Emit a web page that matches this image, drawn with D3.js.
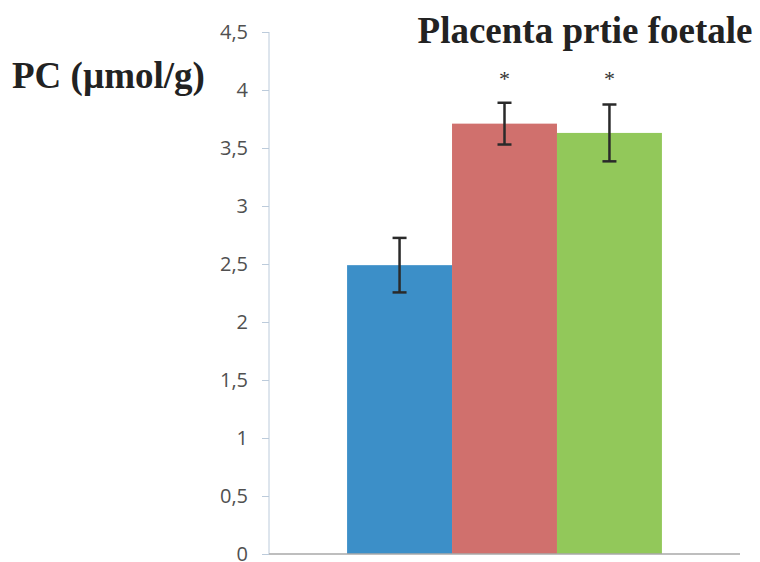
<!DOCTYPE html>
<html lang="en">
<head>
  <meta charset="UTF-8">
  <title>Placenta prtie foetale - PC</title>
  <script src="https://d3js.org/d3.v7.min.js"></script>
  <style>
    body { margin: 0; background: #fff; }
  </style>
</head>
<body>
  <div id="chart"></div>

  <script>
    // data
    const groups = ["Contrôle", "Groupe 2", "Groupe 3"];
    const means = [2.49, 3.71, 3.63];
    const errors = [0.235, 0.18, 0.245];
    const stars = ["", "*", "*"];
    const colors = ["#3c8fc8", "#d0706d", "#92c85a"];
    const yTicks = [0, 0.5, 1, 1.5, 2, 2.5, 3, 3.5, 4, 4.5];

    const W = 760, H = 562;
    const margin = { top: 32, right: 20, bottom: 8, left: 269 };
    const width = W - margin.left - margin.right;
    const height = H - margin.top - margin.bottom;

    const svg = d3.select("#chart")
      .append("svg")
      .attr("width", W)
      .attr("height", H);

    const g = svg.append("g")
      .attr("transform", "translate(" + margin.left + "," + margin.top + ")");

    const y = d3.scaleLinear()
      .domain([0, 4.5])
      .range([height, 0]);

    // one category, three bars side by side
    const x0 = d3.scaleBand()
      .domain(["PC"])
      .range([0, width])
      .paddingInner(0)
      .paddingOuter(0.248);

    const x1 = d3.scaleBand()
      .domain(groups)
      .range([x0("PC"), x0("PC") + x0.bandwidth()])
      .padding(0);

    // y axis
    const yAxis = g.append("g")
      .call(d3.axisLeft(y)
        .tickValues(yTicks)
        .tickSize(7)
        .tickPadding(14)
        .tickFormat(d => String(d).replace(".", ",")));
    yAxis.select(".domain").attr("stroke", "#bccbdb").attr("d", "M0,0V" + height);
    yAxis.selectAll(".tick line").attr("stroke", "#bccbdb");
    yAxis.selectAll(".tick text")
      .attr("fill", "#505050")
      .style("font-family", "'Open Sans', Lato, sans-serif")
      .style("font-size", "20px");

    // bars
    g.selectAll("rect.bar")
      .data(groups)
      .enter().append("rect")
        .attr("class", "bar")
        .attr("x", d => x1(d))
        .attr("y", (d, i) => y(means[i]))
        .attr("width", x1.bandwidth())
        .attr("height", (d, i) => height - y(means[i]))
        .attr("fill", (d, i) => colors[i]);

    // x baseline
    g.append("line")
      .attr("x1", 0)
      .attr("x2", width)
      .attr("y1", height)
      .attr("y2", height)
      .attr("stroke", "#a8a8a8")
      .attr("stroke-width", 1.5);

    // error bars
    const eb = g.selectAll("g.err")
      .data(groups)
      .enter().append("g")
        .attr("class", "err")
        .attr("transform", d => "translate(" + (x1(d) + x1.bandwidth() / 2) + ",0)");
    eb.append("line")
      .attr("y1", (d, i) => y(means[i] + errors[i]))
      .attr("y2", (d, i) => y(means[i] - errors[i]))
      .attr("stroke", "#2a2a2a")
      .attr("stroke-width", 2.5);
    eb.append("line")
      .attr("x1", -7).attr("x2", 7)
      .attr("y1", (d, i) => y(means[i] + errors[i]))
      .attr("y2", (d, i) => y(means[i] + errors[i]))
      .attr("stroke", "#2a2a2a")
      .attr("stroke-width", 2.5);
    eb.append("line")
      .attr("x1", -7).attr("x2", 7)
      .attr("y1", (d, i) => y(means[i] - errors[i]))
      .attr("y2", (d, i) => y(means[i] - errors[i]))
      .attr("stroke", "#2a2a2a")
      .attr("stroke-width", 2.5);

    // significance stars
    g.selectAll("text.star")
      .data(groups)
      .enter().append("text")
        .attr("class", "star")
        .attr("x", d => x1(d) + x1.bandwidth() / 2)
        .attr("y", y(4.5) + 54)
        .attr("text-anchor", "middle")
        .attr("fill", "#333")
        .style("font-family", "'Liberation Serif', serif")
        .style("font-size", "22px")
        .text((d, i) => stars[i]);

    // title and y label
    svg.append("text")
      .attr("x", 585)
      .attr("y", 43)
      .attr("text-anchor", "middle")
      .attr("fill", "#222")
      .style("font-family", "'Liberation Serif', 'Times New Roman', serif")
      .style("font-weight", "bold")
      .style("font-size", "37px")
      .text("Placenta prtie foetale");

    svg.append("text")
      .attr("x", 12)
      .attr("y", 88)
      .attr("fill", "#222")
      .style("font-family", "'Liberation Serif', 'Times New Roman', serif")
      .style("font-weight", "bold")
      .style("font-size", "37px")
      .text("PC (µmol/g)");
  </script>
</body>
</html>
